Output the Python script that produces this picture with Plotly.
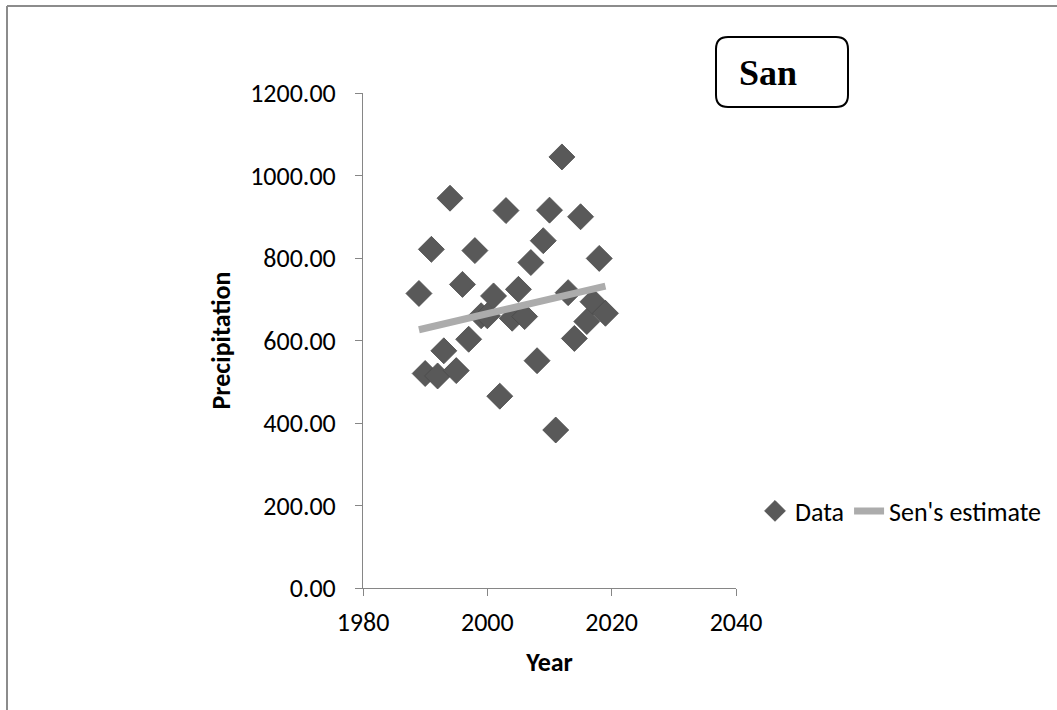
import plotly.graph_objects as go

# ---- data ----
years = [1989, 1990, 1991, 1992, 1993, 1994, 1995, 1996, 1997, 1998,
         1999, 2000, 2001, 2002, 2003, 2004, 2005, 2006, 2007, 2008,
         2009, 2010, 2011, 2012, 2013, 2014, 2015, 2016, 2017, 2018, 2019]
precip = [714, 520, 821, 514, 575, 945, 527, 736, 603, 818,
          660, 660, 708, 465, 915, 654, 724, 658, 789, 551,
          842, 916, 383, 1045, 716, 605, 900, 646, 694, 799, 666]
sen_years = [1989, 2019]
sen_values = [626, 732]

x_range = [1980, 2040]
y_range = [0, 1200]
x_ticks = [1980, 2000, 2020, 2040]
y_ticks = [0, 200, 400, 600, 800, 1000, 1200]
title_text = "San"

FONT = "Calibri, Carlito, Lato, 'Open Sans', sans-serif"
FS = 26

fig = go.Figure()
fig.add_trace(go.Scatter(
    x=years, y=precip, mode="markers", name="Data",
    marker=dict(symbol="diamond", size=20, color="#595959",
                line=dict(color="#4a4a4a", width=0.8)),
))
fig.add_trace(go.Scatter(
    x=sen_years, y=sen_values, mode="lines", name="Sen's estimate",
    line=dict(color="#acacac", width=7),
))

W, H = 1057, 710
L, R, T, B = 363, 321, 93, 122
pw, ph = W - L - R, H - T - B


def px_to_paper(px, py):
    return (px - L) / pw, (H - B - py) / ph


# rounded title box
bx0, by0 = px_to_paper(716, 37)
bx1, by1 = px_to_paper(848, 107)
rx, ry = 12 / pw, 12 / ph
path = (f"M {bx0+rx},{by0} L {bx1-rx},{by0} Q {bx1},{by0} {bx1},{by0-ry} "
        f"L {bx1},{by1+ry} Q {bx1},{by1} {bx1-rx},{by1} "
        f"L {bx0+rx},{by1} Q {bx0},{by1} {bx0},{by1+ry} "
        f"L {bx0},{by0-ry} Q {bx0},{by0} {bx0+rx},{by0} Z")

fx0, fy0 = px_to_paper(7, 6)
fx1, _ = px_to_paper(W + 10, 6)
_, fy1 = px_to_paper(7, H + 10)

shapes = [
    dict(type="path", path=path, xref="paper", yref="paper",
         line=dict(color="black", width=2), fillcolor="white"),
    dict(type="line", xref="paper", yref="paper", x0=fx0, y0=fy0, x1=fx1, y1=fy0,
         line=dict(color="#8c8c8c", width=2)),
    dict(type="line", xref="paper", yref="paper", x0=fx0, y0=fy0, x1=fx0, y1=fy1,
         line=dict(color="#8c8c8c", width=2)),
]

tx, ty = px_to_paper(768, 73)
lx, ly = px_to_paper(755, 511)

fig.update_layout(
    width=W, height=H,
    margin=dict(l=L, r=R, t=T, b=B, pad=0, autoexpand=False),
    paper_bgcolor="white", plot_bgcolor="white",
    font=dict(family=FONT, size=FS, color="black"),
    showlegend=True,
    legend=dict(orientation="h", x=lx, y=ly, xanchor="left", yanchor="middle",
                font=dict(size=FS, family=FONT), bgcolor="rgba(0,0,0,0)",
                itemwidth=30, tracegroupgap=0),
    xaxis=dict(range=x_range, tickvals=x_ticks, ticktext=[str(v) for v in x_ticks],
               showgrid=False, zeroline=False, showline=True, linecolor="#868686",
               linewidth=1, ticks="outside", ticklen=7, tickcolor="#868686",
               tickfont=dict(size=FS), fixedrange=True, ticklabelstandoff=4,
               automargin=False,
               title=dict(text="<b>Year</b>", font=dict(size=FS), standoff=15)),
    yaxis=dict(range=y_range, tickvals=y_ticks,
               ticktext=[f"{v:.2f}" for v in y_ticks],
               showgrid=False, zeroline=False, showline=True, linecolor="#868686",
               linewidth=1, ticks="outside", ticklen=7, tickcolor="#868686",
               tickfont=dict(size=FS), fixedrange=True, ticklabelstandoff=14,
               automargin=False,
               title=dict(text="<b>Precipitation</b>", font=dict(size=FS), standoff=12)),
    shapes=shapes,
    annotations=[dict(text=f"<b>{title_text}</b>", xref="paper", yref="paper",
                      x=tx, y=ty, xanchor="center", yanchor="middle", showarrow=False,
                      font=dict(family="'Liberation Serif', 'Times New Roman', serif",
                                size=36, color="black"))],
)

fig.write_html("out.html", config={"displayModeBar": False, "staticPlot": True},
               post_script="document.body.style.margin='0px';document.body.style.overflow='hidden';")
